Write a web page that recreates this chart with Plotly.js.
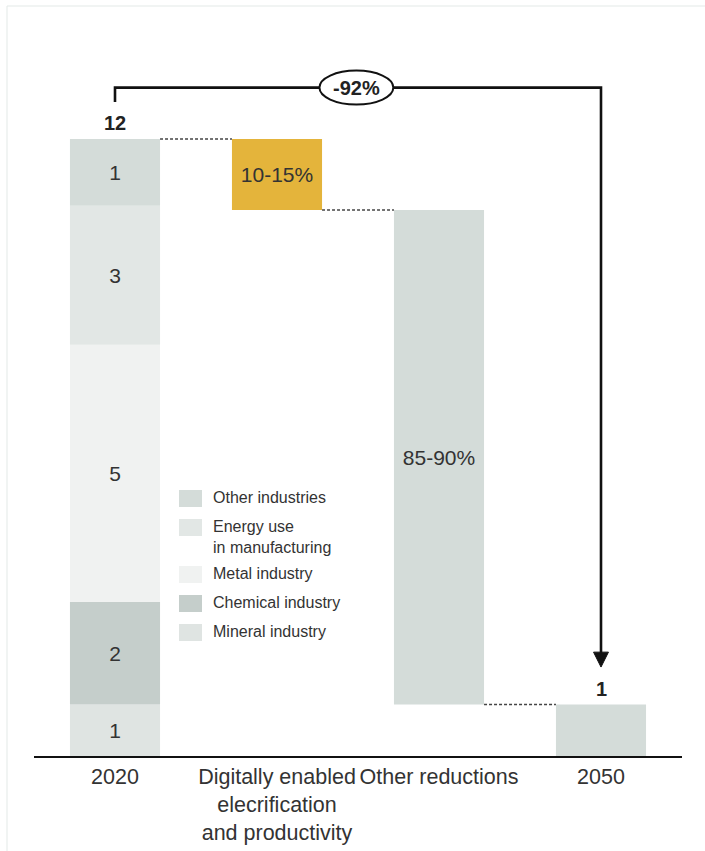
<!DOCTYPE html>
<html>
<head>
<meta charset="utf-8">
<script src="https://cdn.plot.ly/plotly-3.0.1.min.js"></script>
<style>
  html, body { margin: 0; padding: 0; background: #ffffff; }
  #chart { width: 705px; height: 851px; }
</style>
</head>
<body>
<div id="chart"></div>
<script>
// Industrial emissions bridge, 2020 -> 2050
const categories = ['2020', 'Digitally enabled<br>elecrification<br>and productivity', 'Other reductions', '2050'];

// 2020 breakdown, bottom to top
const segmentNames = ['Mineral industry', 'Chemical industry', 'Metal industry', 'Energy use<br>in manufacturing', 'Other industries'];
const segmentValues = [1.0, 2.0, 5.0, 2.7, 1.3];

// reductions between 2020 and 2050
const reductionValues = [1.38, 9.62];
const reductionLabels = ['10-15%', '85-90%'];

const value2050 = 1.0;

// styling
const segmentColors = ['#dfe4e2', '#c5cecb', '#f0f2f1', '#e2e7e5', '#d4dcd9'];
const reductionColors = ['#e4b43b', '#d4dcd9'];
const endColor = '#d4dcd9';
const textColor = '#333333';
const FONT = '"Liberation Sans", Arial, Helvetica, sans-serif';
const BAR_W = 0.556;

// plot geometry (pixels) used for paper-space helpers
const M = { l: 34, r: 23, t: 11, b: 95 };
const W = 705, H = 851;
const plotW = W - M.l - M.r, plotH = H - M.t - M.b;
const px = x => (x - M.l) / plotW;
const py = y => (H - M.b - y) / plotH;

const total = segmentValues.reduce((a, b) => a + b, 0);
const traces = [];

// stacked 2020 bar
let cum = 0;
segmentValues.forEach((v, i) => {
  traces.push({
    type: 'bar', x: [categories[0]], y: [v], base: [cum], width: BAR_W,
    name: segmentNames[i].replace('<br>', ' '),
    marker: { color: segmentColors[i], line: { width: 0 } },
    text: [String(Math.round(v))], textposition: 'inside', insidetextanchor: 'middle',
    textangle: 0, constraintext: 'none',
    textfont: { family: FONT, size: 21, color: textColor },
    hoverinfo: 'name+y', showlegend: false
  });
  cum += v;
});

// floating reduction bars
let level = total;
reductionValues.forEach((v, i) => {
  level -= v;
  traces.push({
    type: 'bar', x: [categories[i + 1]], y: [v], base: [level], width: BAR_W,
    marker: { color: reductionColors[i], line: { width: 0 } },
    text: [reductionLabels[i]], textposition: 'inside', insidetextanchor: 'middle',
    textangle: 0, constraintext: 'none',
    textfont: { family: FONT, size: 21, color: textColor },
    hoverinfo: 'y', showlegend: false
  });
});

// 2050 bar
traces.push({
  type: 'bar', x: [categories[3]], y: [value2050], base: [0], width: BAR_W,
  marker: { color: endColor, line: { width: 0 } },
  hoverinfo: 'y', showlegend: false
});

const half = BAR_W / 2;
const shapes = [];
const annotations = [];

// outer frame
shapes.push({
  type: 'rect', xref: 'paper', yref: 'paper', layer: 'below',
  x0: px(7), x1: px(720), y0: py(870), y1: py(6),
  line: { color: '#e3e9e7', width: 1 }, fillcolor: 'rgba(0,0,0,0)'
});

// dashed connectors between bars
const afterDigital = total - reductionValues[0];
const connectors = [
  [0, 1, total],
  [1, 2, afterDigital],
  [2, 3, value2050]
];
connectors.forEach(([a, b, yv]) => {
  shapes.push({
    type: 'line', xref: 'x', yref: 'y',
    x0: a + half, x1: b - half, y0: yv, y1: yv,
    line: { color: '#444444', width: 1.5, dash: '3px,2px' }
  });
});

// bracket with arrow from 2020 total to 2050
const bracketY = 13;
const tipY = 1.73;
const headH = 0.29, headW = 0.046;
shapes.push({
  type: 'path', xref: 'x', yref: 'y',
  path: `M 0,12.72 L 0,${bracketY} L 3,${bracketY} L 3,${tipY + headH - 0.02}`,
  line: { color: '#111111', width: 2.6 }
});
shapes.push({
  type: 'path', xref: 'x', yref: 'y',
  path: `M ${3 - headW},${tipY + headH} L ${3 + headW},${tipY + headH} L 3,${tipY} Z`,
  fillcolor: '#111111', line: { color: '#111111', width: 1 }
});
// oval badge
const ovalX = 1.49;
shapes.push({
  type: 'circle', xref: 'x', yref: 'y',
  x0: ovalX - 0.228, x1: ovalX + 0.228, y0: bracketY - 0.33, y1: bracketY + 0.33,
  fillcolor: '#ffffff', line: { color: '#111111', width: 2 }
});

const change = Math.round((value2050 - total) / total * 100);
annotations.push({
  xref: 'x', yref: 'y', x: ovalX, y: bracketY, text: `<b>${change}%</b>`, showarrow: false,
  font: { family: FONT, size: 20, color: '#222222' }
});

// totals above the endpoint bars
annotations.push({
  xref: 'x', yref: 'y', x: 0, y: total, yanchor: 'bottom', yshift: 3,
  text: `<b>${Math.round(total)}</b>`, showarrow: false,
  font: { family: FONT, size: 20, color: '#222222' }
});
annotations.push({
  xref: 'x', yref: 'y', x: 3, y: value2050, yanchor: 'bottom', yshift: 3,
  text: `<b>${Math.round(value2050)}</b>`, showarrow: false,
  font: { family: FONT, size: 20, color: '#222222' }
});

// legend (top item = top segment)
let rowTop = 490;
for (let i = segmentNames.length - 1; i >= 0; i--) {
  const name = segmentNames[i];
  shapes.push({
    type: 'rect', xref: 'paper', yref: 'paper',
    x0: px(179), x1: px(202), y0: py(rowTop + 17), y1: py(rowTop),
    fillcolor: segmentColors[i], line: { width: 0 }
  });
  annotations.push({
    xref: 'paper', yref: 'paper', x: px(211), y: py(rowTop - 3),
    xanchor: 'left', yanchor: 'top', align: 'left',
    text: name, showarrow: false,
    font: { family: FONT, size: 16, color: textColor }
  });
  const lines = name.split('<br>').length;
  rowTop += 29 + 18 * (lines - 1);
}

const layout = {
  width: W, height: H,
  margin: M,
  paper_bgcolor: '#ffffff', plot_bgcolor: '#ffffff',
  barmode: 'overlay',
  showlegend: false,
  font: { family: FONT, color: textColor },
  xaxis: {
    type: 'category', range: [-0.5, 3.5], categoryorder: 'array', categoryarray: categories,
    showline: true, linecolor: '#111111', linewidth: 2,
    ticks: '', showgrid: false, zeroline: false, fixedrange: true,
    tickfont: { family: FONT, size: 21.5, color: textColor }
  },
  yaxis: {
    range: [0, plotH / (617 / 12)], visible: false, fixedrange: true
  },
  shapes: shapes,
  annotations: annotations
};

Plotly.newPlot('chart', traces, layout, { displayModeBar: false, staticPlot: true });
</script>
</body>
</html>
